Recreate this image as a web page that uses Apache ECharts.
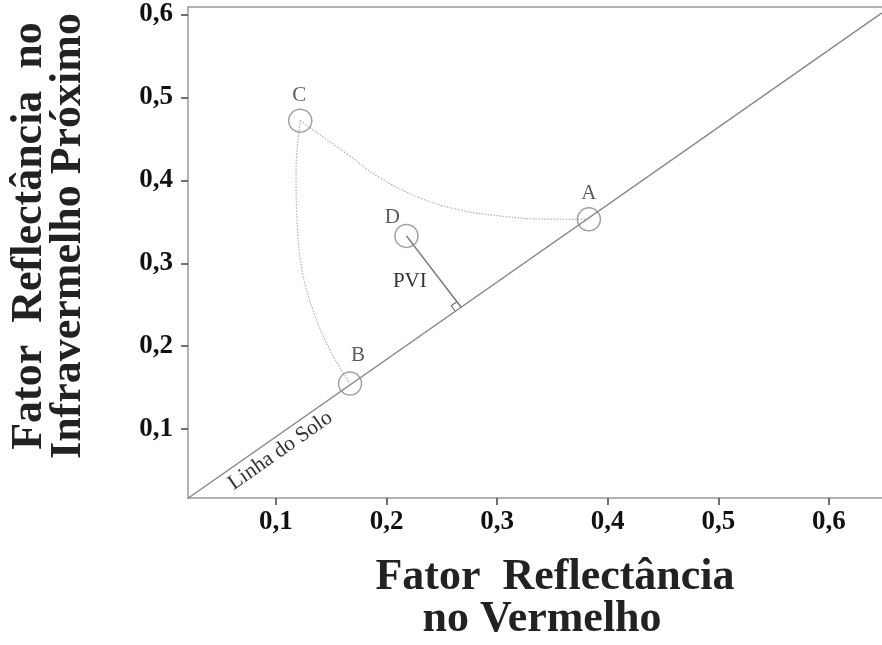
<!DOCTYPE html>
<html>
<head>
<meta charset="utf-8">
<script src="https://cdn.jsdelivr.net/npm/echarts@6/dist/echarts.min.js"></script>
<style>
  html, body { margin: 0; padding: 0; background: #ffffff; }
  #chart { width: 882px; height: 645px; }
</style>
</head>
<body>
<div id="chart"></div>
<script>
// Tick values of both reflectance axes
const xTicks = [0.1, 0.2, 0.3, 0.4, 0.5, 0.6];
const yTicks = [0.1, 0.2, 0.3, 0.4, 0.5, 0.6];

// Targets: red reflectance (x) and near-infrared reflectance (y)
const pointNames = ['A', 'B', 'C', 'D'];
const pointRed = [0.383, 0.167, 0.122, 0.218];
const pointNir = [0.353, 0.155, 0.472, 0.333];

// Soil line end points
const soilRed = [0.0205, 0.648];
const soilNir = [0.0167, 0.602];

// Dotted trajectory C -> A
const curveCARed = [0.122, 0.1336, 0.1643, 0.1942, 0.2304, 0.2666, 0.3028, 0.3390, 0.383];
const curveCANir = [0.472, 0.4608, 0.4318, 0.4029, 0.3787, 0.3642, 0.3570, 0.3534, 0.353];

// Dotted trajectory C -> B
const curveCBRed = [0.122, 0.1182, 0.1191, 0.1236, 0.1335, 0.1489, 0.167];
const curveCBNir = [0.472, 0.4125, 0.3522, 0.2918, 0.2435, 0.1953, 0.155];

// Foot of the perpendicular from D onto the soil line
const pviFootRed = 0.2675;
const pviFootNir = 0.247;

const xMin = 0.0205, xMax = 0.648;
const yMin = 0.017, yMax = 0.609;

const zip = (xs, ys) => xs.map((v, i) => [v, ys[i]]);
const fmt = v => v.toFixed(1).replace('.', ',');

const serif = '"Liberation Serif", "Times New Roman", serif';
const axisGray = '#9a9a9a';

// label offsets of the target letters, relative to each circle centre
const letterOffset = { A: [0, -26], B: [8, -28], C: [-1, -25], D: [-14, -18] };

const chart = echarts.init(document.getElementById('chart'), null, { renderer: 'canvas' });

const tickLabel = {
  fontFamily: serif, fontWeight: 'bold', fontSize: 27, color: '#111'
};

chart.setOption({
  animation: false,
  backgroundColor: '#ffffff',
  grid: { left: 188, right: 0, top: 7, bottom: 147, containLabel: false },
  xAxis: [{
    type: 'value', min: xMin, max: xMax, position: 'bottom',
    axisLine: { show: true, lineStyle: { color: axisGray, width: 1.5 } },
    axisTick: { show: true, customValues: xTicks, length: 7, lineStyle: { color: '#444', width: 1.5 } },
    axisLabel: Object.assign({ customValues: xTicks, formatter: fmt, margin: 11 }, tickLabel),
    splitLine: { show: false }
  }, {
    type: 'value', min: xMin, max: xMax, position: 'top',
    axisLine: { show: true, lineStyle: { color: axisGray, width: 1.5 } },
    axisTick: { show: false }, axisLabel: { show: false }, splitLine: { show: false }
  }],
  yAxis: {
    type: 'value', min: yMin, max: yMax,
    axisLine: { show: true, lineStyle: { color: axisGray, width: 1.5 } },
    axisTick: { show: true, customValues: yTicks, length: 7, lineStyle: { color: '#444', width: 1.5 } },
    axisLabel: Object.assign({ customValues: yTicks, formatter: fmt, margin: 15 }, tickLabel),
    splitLine: { show: false }
  },
  series: [
    {
      name: 'Linha do Solo', type: 'line', data: zip(soilRed, soilNir),
      symbol: 'none', silent: true,
      lineStyle: { color: '#888', width: 1.5 }, z: 2
    },
    {
      name: 'C-A', type: 'line', data: zip(curveCARed, curveCANir),
      symbol: 'none', smooth: 0.4, silent: true,
      lineStyle: { color: '#b0b0b0', width: 1.2, type: [1.5, 1.5] }, z: 2
    },
    {
      name: 'C-B', type: 'line', data: zip(curveCBRed, curveCBNir),
      symbol: 'none', smooth: 0.4, silent: true,
      lineStyle: { color: '#b0b0b0', width: 1.2, type: [1.5, 1.5] }, z: 2
    },
    {
      name: 'PVI', type: 'line',
      data: [[pointRed[3], pointNir[3]], [pviFootRed, pviFootNir]],
      symbol: 'none', silent: true,
      lineStyle: { color: '#777', width: 1.5 }, z: 2
    },
    {
      name: 'alvos', type: 'scatter', symbol: 'circle', symbolSize: 23, z: 3,
      itemStyle: { color: 'rgba(255,255,255,0)', borderColor: '#8a8a8a', borderWidth: 1.5 },
      data: pointNames.map((n, i) => ({
        name: n, value: [pointRed[i], pointNir[i]],
        label: { offset: letterOffset[n] }
      })),
      label: {
        show: true, position: 'inside', formatter: p => p.name,
        fontFamily: serif, fontSize: 21, color: '#333'
      }
    }
  ]
});

// Annotations placed from the axis scales
const px = (x, y) => chart.convertToPixel({ gridIndex: 0 }, [x, y]);
const s0 = px(soilRed[0], soilNir[0]);
const s1 = px(soilRed[1], soilNir[1]);
const dx = s1[0] - s0[0], dy = s1[1] - s0[1];
const len = Math.hypot(dx, dy);
const ux = dx / len, uy = dy / len;          // along soil line
const nx = -uy, ny = ux;                      // normal pointing below the line
const soilAngle = Math.atan2(-dy, dx);

const labelPos = [s0[0] + ux * 103 + nx * 14, s0[1] + uy * 103 + ny * 14];

const d = px(pointRed[3], pointNir[3]);
const f = px(pviFootRed, pviFootNir);
const pl = Math.hypot(d[0] - f[0], d[1] - f[1]);
const vx = (d[0] - f[0]) / pl, vy = (d[1] - f[1]) / pl;   // towards D
const sq = 7;
const c1 = [f[0] + vx * sq, f[1] + vy * sq];
const c2 = [c1[0] - ux * sq, c1[1] - uy * sq];
const c3 = [f[0] - ux * sq, f[1] - uy * sq];
const mid = [(d[0] + f[0]) / 2, (d[1] + f[1]) / 2];

chart.setOption({
  graphic: [
    {
      type: 'text', x: labelPos[0], y: labelPos[1], rotation: soilAngle,
      style: { text: 'Linha do Solo', fontFamily: serif, fontSize: 21.5, fill: '#333',
               align: 'center', verticalAlign: 'middle' }
    },
    {
      type: 'polyline', shape: { points: [c1, c2, c3] },
      style: { stroke: '#777', lineWidth: 1.2, fill: null }
    },
    {
      type: 'text', x: mid[0] - 24, y: mid[1] + 10,
      style: { text: 'PVI', fontFamily: serif, fontSize: 21, fill: '#333',
               align: 'center', verticalAlign: 'middle' }
    },
    {
      type: 'text', x: 30, y: 236, rotation: Math.PI / 2,
      style: { text: 'Fator  Reflectância  no', fontFamily: serif, fontWeight: 'bold',
               fontSize: 44, fill: '#222', align: 'center', verticalAlign: 'middle' }
    },
    {
      type: 'text', x: 69, y: 236, rotation: Math.PI / 2,
      style: { text: 'Infravermelho Próximo', fontFamily: serif, fontWeight: 'bold',
               fontSize: 44, fill: '#222', align: 'center', verticalAlign: 'middle' }
    },
    {
      type: 'text', x: 555, y: 578,
      style: { text: 'Fator  Reflectância', fontFamily: serif, fontWeight: 'bold',
               fontSize: 44, fill: '#222', align: 'center', verticalAlign: 'middle' }
    },
    {
      type: 'text', x: 542, y: 620,
      style: { text: 'no Vermelho', fontFamily: serif, fontWeight: 'bold',
               fontSize: 44, fill: '#222', align: 'center', verticalAlign: 'middle' }
    }
  ]
});
</script>
</body>
</html>
